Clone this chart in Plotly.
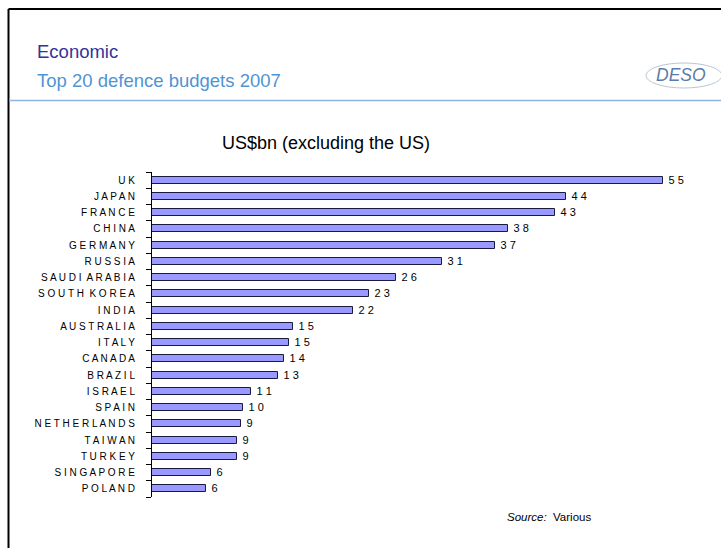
import plotly.graph_objects as go

# ---- data ----
countries = ["UK", "JAPAN", "FRANCE", "CHINA", "GERMANY", "RUSSIA", "SAUDI ARABIA",
             "SOUTH KOREA", "INDIA", "AUSTRALIA", "ITALY", "CANADA", "BRAZIL", "ISRAEL",
             "SPAIN", "NETHERLANDS", "TAIWAN", "TURKEY", "SINGAPORE", "POLAND"]
budgets = [55.0, 44.6, 43.4, 38.3, 37.0, 31.2, 26.3, 23.4, 21.6, 15.15, 14.8, 14.2,
           13.6, 10.7, 9.8, 9.6, 9.15, 9.15, 6.35, 5.8]
value_labels = ["55", "44", "43", "38", "37", "31", "26", "23", "22", "15", "15", "14",
                "13", "11", "10", "9", "9", "9", "6", "6"]

W, H = 721, 548
ML, MR, MT, MB = 152, 12, 172, 51
PW, PH = W - ML - MR, H - MT - MB
X_MAX = 60.0


def px_x(px):
    return (px - ML) / PW


def px_y(py):
    return (H - MB - py) / PH


def spaced(s):
    return "  ".join(" ".join(w) for w in s.split(" "))


fig = go.Figure()
fig.add_trace(go.Bar(
    y=countries, x=budgets, orientation="h", width=0.42,
    marker=dict(color="#9999ff", line=dict(color="#1a1a40", width=1)),
    text=[" " + " ".join(v) for v in value_labels], textposition="outside",
    constraintext="none", cliponaxis=False,
    textfont=dict(family="Arial, Liberation Sans", size=11, color="#000000"),
    hoverinfo="skip",
))

fig.update_layout(
    width=W, height=H, margin=dict(l=ML, r=MR, t=MT, b=MB),
    paper_bgcolor="white", plot_bgcolor="white", showlegend=False,
    font=dict(family="Arial, Liberation Sans", color="#000000"),
    bargap=0,
    xaxis=dict(visible=False, range=[0, X_MAX], fixedrange=True),
    yaxis=dict(autorange="reversed", showline=True, linecolor="#000000", linewidth=1,
               ticks="outside", ticklen=5, tickcolor="#000000", tickson="boundaries",
               showgrid=False, zeroline=False,
               tickmode="array", tickvals=countries, ticktext=[spaced(c) for c in countries],
               tickfont=dict(size=10, color="#000000"), ticklabelstandoff=14),
)

shapes = [
    # slide frame (left and top)
    dict(type="line", xref="paper", yref="paper", x0=px_x(8.5), x1=px_x(721), y0=px_y(9), y1=px_y(9),
         line=dict(color="#000000", width=2)),
    dict(type="line", xref="paper", yref="paper", x0=px_x(8.5), x1=px_x(8.5), y0=px_y(9), y1=px_y(548),
         line=dict(color="#000000", width=2)),
    # title underline
    dict(type="line", xref="paper", yref="paper", x0=px_x(9), x1=px_x(721), y0=px_y(100.5), y1=px_y(100.5),
         line=dict(color="#8fb4e0", width=1.5)),
    # logo swoosh
    dict(type="circle", xref="paper", yref="paper", x0=px_x(646), x1=px_x(722), y0=px_y(63), y1=px_y(88),
         line=dict(color="#b8c6d8", width=1)),
]
fig.update_layout(shapes=shapes)

annotations = [
    dict(text="Economic", x=px_x(35), y=px_y(51), xanchor="left", yanchor="middle",
         font=dict(size=18.5, color="#333399")),
    dict(text="Top 20 defence budgets 2007", x=px_x(35), y=px_y(80), xanchor="left", yanchor="middle",
         font=dict(size=18.5, color="#4f94d4")),
    dict(text="<i>DESO</i>", x=px_x(681), y=px_y(75), xanchor="center", yanchor="middle",
         font=dict(size=17.5, color="#5a7cab")),
    dict(text="US$bn (excluding the US)", x=px_x(326), y=px_y(143), xanchor="center", yanchor="middle",
         font=dict(size=18, color="#000000")),
    dict(text="<i>Source:</i>  Various", x=px_x(505), y=px_y(517), xanchor="left", yanchor="middle",
         font=dict(size=11.5, color="#000000")),
]
for a in annotations:
    a.update(xref="paper", yref="paper", showarrow=False)
fig.update_layout(annotations=annotations)

fig.write_html("out.html")
